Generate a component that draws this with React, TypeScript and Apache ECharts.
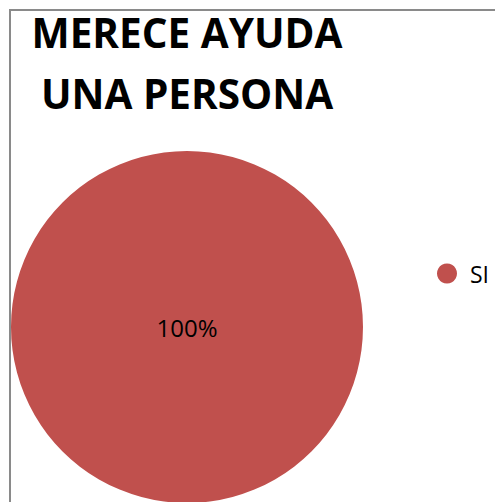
import React, { useEffect, useRef } from "react";
import * as echarts from "echarts";

const categories = ["SI"];
const values = [100];
const titleLines = ["MERECE AYUDA", "UNA PERSONA"];
const sliceColors = ["#C0504D"];

export default function App() {
  const ref = useRef<HTMLDivElement>(null);
  useEffect(() => {
    if (!ref.current) return;
    const chart = echarts.init(ref.current, undefined, { renderer: "svg" });
    chart.setOption({
      animation: false,
      backgroundColor: "#ffffff",
      title: {
        text: titleLines.join("\n"),
        left: 182,
        top: -3,
        textAlign: "center",
        textStyle: {
          fontFamily: "'Open Sans', sans-serif",
          fontWeight: "bold",
          fontSize: 40.5,
          lineHeight: 61,
          color: "#000000",
        },
      },
      legend: {
        orient: "vertical",
        left: 437,
        top: 262,
        padding: 0,
        icon: "circle",
        itemWidth: 20,
        itemHeight: 20,
        itemGap: 6,
        data: categories,
        textStyle: {
          fontFamily: "'Open Sans', sans-serif",
          fontSize: 23,
          color: "#000000",
          padding: [0, 0, 0, 8],
        },
      },
      graphic: [
        {
          type: "rect",
          shape: { x: 10, y: 10, width: 600, height: 600 },
          style: { fill: "none", stroke: "#8a8a8a", lineWidth: 2 },
          z: 100,
        },
      ],
      series: [
        {
          type: "pie",
          center: [187, 327],
          radius: 176,
          startAngle: 90,
          label: {
            show: true,
            position: "center",
            formatter: "{d}%",
            fontFamily: "'Open Sans', sans-serif",
            fontSize: 24,
            color: "#000000",
          },
          labelLine: { show: false },
          emphasis: { disabled: true },
          itemStyle: { borderWidth: 0 },
          data: categories.map((name, i) => ({
            name,
            value: values[i],
            itemStyle: { color: sliceColors[i] },
          })),
        },
      ],
    });
    return () => chart.dispose();
  }, []);
  return (
    <div
      ref={ref}
      style={{ position: "fixed", left: 0, top: 0, width: 495, height: 502 }}
    />
  );
}
